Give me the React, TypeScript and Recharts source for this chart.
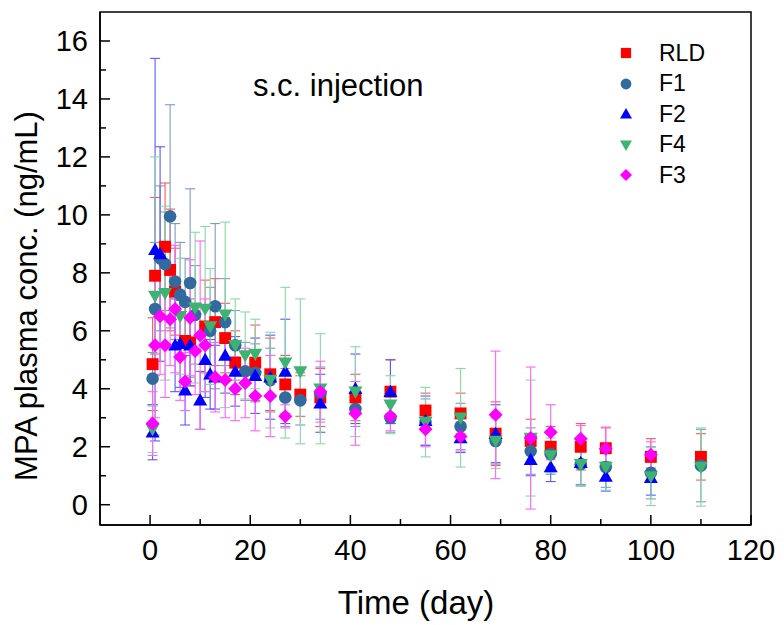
import React from 'react'
import { ScatterChart, Scatter, XAxis, YAxis, ErrorBar, ReferenceArea, Legend, Label } from 'recharts'

const FONT = '"Liberation Sans", Arial, Helvetica, sans-serif'

const xTicks = [0, 10, 20, 30, 40, 50, 60, 70, 80, 90, 100, 110, 120]
const yTicks = [0, 1, 2, 3, 4, 5, 6, 7, 8, 9, 10, 11, 12, 13, 14, 15, 16]

// RLD
const rldDays = [0.5, 1, 3, 4, 5, 7, 8, 11, 13, 15, 17, 21, 24, 27, 30, 34, 41, 48, 55, 62, 69, 76, 80, 86, 91, 100, 110]
const rldConc = [4.85, 7.9, 8.9, 8.1, 7.35, 5.65, 5.6, 6.15, 6.3, 5.75, 4.9, 4.9, 4.5, 4.15, 3.8, 3.7, 3.7, 3.9, 3.25, 3.15, 2.45, 2.2, 2.0, 2.0, 1.95, 1.65, 1.65]
const rldSd = [1.6, 2.7, 2.2, 2.1, 1.5, 1.4, 1.5, 1.6, 1.5, 1.2, 1.1, 1.3, 1.25, 1.0, 0.75, 1.0, 0.8, 1.1, 0.6, 0.7, 1.1, 0.75, 0.7, 0.8, 0.7, 0.63, 0.8]

// F1
const f1Days = [0.5, 1, 2, 3, 4, 5, 6, 7, 8, 9, 12, 13, 15, 17, 19, 21, 24, 27, 30, 34, 41, 48, 55, 62, 69, 76, 80, 86, 91, 100, 110]
const f1Conc = [4.35, 6.75, 8.5, 8.3, 9.95, 7.7, 7.25, 7.0, 7.65, 6.55, 6.0, 6.85, 6.3, 5.5, 4.6, 4.55, 4.3, 3.7, 3.6, 3.85, 3.3, 3.0, 2.85, 2.7, 2.2, 1.85, 1.75, 1.4, 1.3, 1.1, 1.35]
const f1Sd = [0.9, 2.3, 2.5, 1.8, 3.85, 2.0, 1.8, 1.5, 3.25, 1.7, 1.5, 2.85, 1.5, 1.2, 1.0, 1.0, 1.1, 1.0, 0.85, 0.9, 0.6, 0.5, 0.8, 0.8, 0.8, 0.8, 0.7, 0.7, 0.7, 0.9, 1.25]

// F2
const f2Days = [0.5, 1, 2, 5, 6, 7, 8, 10, 11, 12, 13, 15, 17, 21, 24, 27, 34, 41, 48, 55, 62, 69, 76, 80, 86, 91, 100]
const f2Conc = [2.5, 8.8, 8.65, 5.5, 5.55, 3.95, 5.5, 3.6, 5.0, 4.5, 4.4, 5.15, 4.6, 4.45, 4.4, 4.6, 3.5, 4.0, 3.9, 2.9, 2.3, 2.45, 1.55, 1.3, 1.45, 0.97, 0.93]
const f2Sd = [0.95, 6.6, 3.7, 1.6, 1.5, 1.2, 1.4, 1.0, 1.3, 1.2, 1.1, 1.3, 1.2, 1.3, 1.45, 1.8, 1.0, 1.2, 1.1, 0.85, 0.5, 1.0, 0.55, 0.5, 0.8, 0.5, 0.6]

// F4
const f4Days = [0.5, 1, 3, 6, 9, 11, 12, 15, 17, 19, 21, 24, 27, 30, 34, 41, 48, 55, 62, 69, 76, 80, 86, 91, 100, 110]
const f4Conc = [2.6, 7.2, 7.3, 6.5, 6.8, 6.75, 6.15, 6.55, 5.5, 5.15, 5.2, 4.3, 4.9, 4.6, 4.0, 3.9, 3.45, 2.85, 3.0, 2.2, 2.3, 1.7, 1.4, 1.3, 0.97, 1.3]
const f4Sd = [0.8, 4.8, 3.0, 2.0, 2.6, 2.85, 2.0, 3.2, 1.6, 1.5, 1.2, 1.65, 2.6, 2.5, 1.9, 1.55, 1.0, 1.2, 1.7, 0.95, 2.0, 0.6, 0.75, 0.8, 1.0, 1.35]

// F3
const f3Days = [0.5, 1, 2, 3, 4, 5, 6, 7, 8, 9, 10, 11, 13, 15, 17, 19, 21, 24, 27, 34, 41, 48, 55, 62, 69, 76, 80, 86, 91, 100]
const f3Conc = [2.8, 5.5, 6.5, 5.5, 6.4, 6.75, 5.1, 4.25, 6.45, 5.3, 5.85, 5.5, 4.4, 4.3, 4.0, 4.2, 3.75, 3.75, 3.05, 3.9, 3.15, 3.05, 2.6, 2.35, 3.1, 2.3, 2.5, 2.28, 1.93, 1.72]
const f3Sd = [1.1, 2.5, 2.0, 1.8, 1.6, 2.2, 1.5, 1.0, 2.0, 1.5, 3.25, 1.6, 1.2, 1.3, 1.1, 1.2, 1.2, 1.4, 0.4, 1.05, 1.1, 0.5, 0.6, 0.5, 2.2, 2.45, 0.95, 0.45, 0.75, 0.45]

const toPoints = (days: number[], conc: number[], sd: number[]) =>
  days.map((d, i) => ({ day: d, conc: conc[i], sd: sd[i] }))

const series = [
  { name: 'RLD', shape: 'square', color: '#ff0000', err: '#ff5a5a', data: toPoints(rldDays, rldConc, rldSd) },
  { name: 'F1', shape: 'circle', color: '#336a9e', err: '#7d9cbf', data: toPoints(f1Days, f1Conc, f1Sd) },
  { name: 'F2', shape: 'up', color: '#0000ff', err: '#5a5aff', data: toPoints(f2Days, f2Conc, f2Sd) },
  { name: 'F4', shape: 'down', color: '#3cb371', err: '#8ad8a6', data: toPoints(f4Days, f4Conc, f4Sd) },
  { name: 'F3', shape: 'diamond', color: '#ff00ff', err: '#ff66ff', data: toPoints(f3Days, f3Conc, f3Sd) },
]

function Marker({ cx, cy, shape, color, r = 7 }: any) {
  if (cx == null || cy == null) return null
  if (shape === 'square') return <rect x={cx - r * 0.85} y={cy - r * 0.85} width={r * 1.7} height={r * 1.7} fill={color} />
  if (shape === 'circle') return <circle cx={cx} cy={cy} r={r * 0.9} fill={color} />
  if (shape === 'up') return <polygon points={`${cx},${cy - r} ${cx + r},${cy + r * 0.75} ${cx - r},${cy + r * 0.75}`} fill={color} />
  if (shape === 'down') return <polygon points={`${cx},${cy + r} ${cx + r},${cy - r * 0.75} ${cx - r},${cy - r * 0.75}`} fill={color} />
  return <polygon points={`${cx},${cy - r} ${cx + r},${cy} ${cx},${cy + r} ${cx - r},${cy}`} fill={color} />
}

const XTick = ({ x, y, payload }: any) => {
  const major = payload.value % 20 === 0
  return (
    <g>
      <line x1={x} y1={y} x2={x} y2={y - (major ? 10 : 6)} stroke="#000" strokeWidth={1.5} />
      {major && (
        <text x={x} y={y + 35} textAnchor="middle" fontSize={29} fontFamily={FONT} fill="#000">
          {payload.value}
        </text>
      )}
    </g>
  )
}

const YTick = ({ x, y, payload }: any) => {
  const major = payload.value % 2 === 0
  return (
    <g>
      <line x1={x} y1={y} x2={x + (major ? 10 : 6)} y2={y} stroke="#000" strokeWidth={1.5} />
      {major && (
        <text x={x - 12} y={y + 10} textAnchor="end" fontSize={29} fontFamily={FONT} fill="#000">
          {payload.value}
        </text>
      )}
    </g>
  )
}

const LegendBox = () => (
  <div style={{ fontFamily: FONT, fontSize: 23, color: '#000' }}>
    {series.map((s) => (
      <div key={s.name} style={{ display: 'flex', alignItems: 'center', height: 30.5 }}>
        <svg width={30} height={24} style={{ marginRight: 17 }}>
          <Marker cx={14} cy={12} shape={s.shape} color={s.color} r={6} />
        </svg>
        <span>{s.name}</span>
      </div>
    ))}
  </div>
)

export default function App() {
  return (
    <div style={{ position: 'absolute', left: 0, top: 0, width: 784, height: 625, background: '#fff' }}>
      <ScatterChart width={784} height={625} margin={{ top: 12, right: 33, bottom: 0, left: 0 }}>
        <XAxis
          type="number"
          dataKey="day"
          domain={[-10, 120]}
          ticks={xTicks}
          interval={0}
          allowDataOverflow
          tickSize={0}
          tickMargin={0}
          tick={<XTick />}
          height={100}
          axisLine={{ stroke: '#000', strokeWidth: 1.5 }}
        >
          <Label
            content={() => (
              <text x={416} y={614} textAnchor="middle" fontSize={33} fontFamily={FONT} fill="#000">
                Time (day)
              </text>
            )}
          />
        </XAxis>
        <YAxis
          type="number"
          dataKey="conc"
          domain={[-0.7, 17]}
          ticks={yTicks}
          interval={0}
          allowDataOverflow
          tickSize={0}
          tickMargin={0}
          tick={<YTick />}
          width={100}
          axisLine={{ stroke: '#000', strokeWidth: 1.5 }}
        >
          <Label
            content={() => (
              <text x={37} y={296} transform="rotate(-90 37 296)" textAnchor="middle" fontSize={31} fontFamily={FONT} fill="#000">
                MPA plasma conc. (ng/mL)
              </text>
            )}
          />
        </YAxis>
        <ReferenceArea x1={-10} x2={120} y1={-0.7} y2={17} fill="none" stroke="#000" strokeWidth={1.5} ifOverflow="visible" />
        {series.map((s) => (
          <Scatter
            key={s.name}
            name={s.name}
            data={s.data}
            isAnimationActive={false}
            shape={(p: any) => <Marker cx={p.cx} cy={p.cy} shape={s.shape} color={s.color} />}
          >
            <ErrorBar dataKey="sd" direction="y" width={5} stroke={s.err} strokeWidth={1.1} />
          </Scatter>
        ))}
        <Legend
          layout="vertical"
          align="center"
          verticalAlign="middle"
          content={<LegendBox />}
          wrapperStyle={{ left: 612, top: 38, width: 140, right: 'auto', bottom: 'auto' }}
        />
      </ScatterChart>
      <div
        style={{
          position: 'absolute',
          left: 253,
          top: 68,
          fontFamily: FONT,
          fontSize: 31,
          color: '#000',
          whiteSpace: 'nowrap',
        }}
      >
        s.c. injection
      </div>
    </div>
  )
}
